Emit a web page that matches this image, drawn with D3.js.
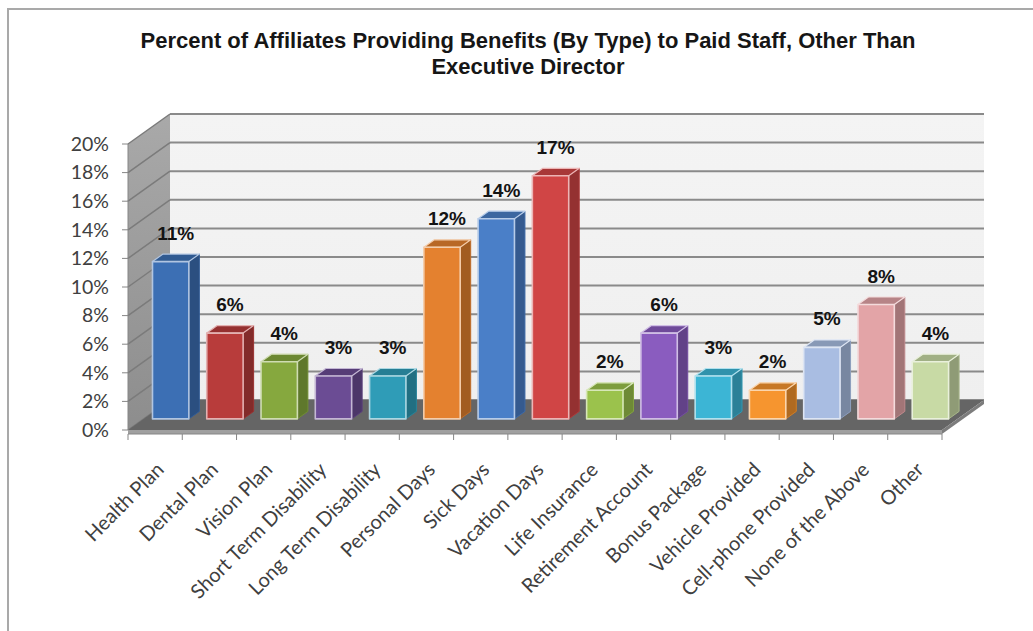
<!DOCTYPE html>
<html>
<head>
<meta charset="utf-8">
<script src="https://cdn.jsdelivr.net/npm/d3@7"></script>
<style>
  html, body { margin: 0; padding: 0; background: #ffffff; }
  svg { display: block; }
</style>
</head>
<body>
<svg id="chart" width="1033" height="631"></svg>
<script>
// Benefit categories and the share of affiliates offering each one (%)
const categories = [
  "Health Plan", "Dental Plan", "Vision Plan", "Short Term Disability",
  "Long Term Disability", "Personal Days", "Sick Days", "Vacation Days",
  "Life Insurance", "Retirement Account", "Bonus Package", "Vehicle Provided",
  "Cell-phone Provided", "None of the Above", "Other"
];
const percents = [11, 6, 4, 3, 3, 12, 14, 17, 2, 6, 3, 2, 5, 8, 4];
const yTicks = [0, 2, 4, 6, 8, 10, 12, 14, 16, 18, 20];
const titleLines = [
  "Percent of Affiliates Providing Benefits (By Type) to Paid Staff, Other Than",
  "Executive Director"
];

// Office-style series palette, one colour per bar
const barColors = [
  "#3c6fb4", "#b83c3b", "#86a83e", "#6b4c94", "#2f9cb7",
  "#e4812f", "#4a7fc8", "#d04545", "#9bc24c", "#8a5cbf",
  "#3cb5d5", "#f6952f", "#a9bde2", "#e3a4a7", "#c8daa5"
];

const svg = d3.select("#chart");

// Outer frame
svg.append("rect").attr("x", 8).attr("y", 9).attr("width", 1040).attr("height", 640)
  .attr("fill", "#ffffff").attr("stroke", "#a9a9a9").attr("stroke-width", 2);

// Title
svg.append("g").selectAll("text").data(titleLines).join("text")
  .attr("x", 528).attr("y", (d, i) => 48 + i * 26)
  .attr("text-anchor", "middle")
  .attr("font-family", "'Liberation Sans', Arial, sans-serif")
  .attr("font-weight", "bold").attr("font-size", 22)
  .attr("fill", "#161616")
  .text(d => d);

// Plot geometry: front plane plus an oblique depth offset
const x0 = 128, x1 = 942, yBase = 430, yTop = 144;
const depth = { dx: 42, dy: -30 };
const x = d3.scaleBand().domain(categories).range([x0, x1])
  .paddingInner(0.33).paddingOuter(0.165);
const y = d3.scaleLinear().domain([0, 20]).range([yBase, yTop]);
const P = (px, v, d) => [px + d * depth.dx, y(v) + d * depth.dy];
const poly = pts => pts.map(p => p.join(",")).join(" ");

const defs = svg.append("defs");
const sideGrad = defs.append("linearGradient").attr("id", "sideWall")
  .attr("x1", 0).attr("y1", 0).attr("x2", 0).attr("y2", 1);
sideGrad.append("stop").attr("offset", "0%").attr("stop-color", "#a9a9a9");
sideGrad.append("stop").attr("offset", "100%").attr("stop-color", "#8d8d8d");
const backGrad = defs.append("linearGradient").attr("id", "backWall")
  .attr("x1", 0).attr("y1", 0).attr("x2", 0).attr("y2", 1);
backGrad.append("stop").attr("offset", "0%").attr("stop-color", "#f4f4f4");
backGrad.append("stop").attr("offset", "100%").attr("stop-color", "#efefef");

const walls = svg.append("g");
// Back wall
walls.append("polygon")
  .attr("points", poly([P(x0, 20, 1), P(x1, 20, 1), P(x1, 0, 1), P(x0, 0, 1)]))
  .attr("fill", "url(#backWall)");
// Side wall
walls.append("polygon")
  .attr("points", poly([P(x0, 20, 0), P(x0, 20, 1), P(x0, 0, 1), P(x0, 0, 0)]))
  .attr("fill", "url(#sideWall)");

// Gridlines on the back and side walls
walls.selectAll("line.back").data(yTicks).join("line").attr("class", "back")
  .attr("x1", d => P(x0, d, 1)[0]).attr("y1", d => P(x0, d, 1)[1])
  .attr("x2", d => P(x1, d, 1)[0]).attr("y2", d => P(x1, d, 1)[1])
  .attr("stroke", "#8a8a8a").attr("stroke-width", 2);
walls.selectAll("line.side").data(yTicks).join("line").attr("class", "side")
  .attr("x1", d => P(x0, d, 0)[0]).attr("y1", d => P(x0, d, 0)[1])
  .attr("x2", d => P(x0, d, 1)[0]).attr("y2", d => P(x0, d, 1)[1])
  .attr("stroke", "#7b7b7b").attr("stroke-width", 1.5);

// Floor slab
const slab = 4;
walls.append("polygon")
  .attr("points", poly([P(x0, 0, 0), P(x1, 0, 0), P(x1, 0, 1), P(x0, 0, 1)]))
  .attr("fill", "#656565");
walls.append("polygon")
  .attr("points", poly([P(x0, 0, 0), P(x1, 0, 0),
    [x1, y(0) + slab], [x0, y(0) + slab]]))
  .attr("fill", "#a0a0a0");
walls.append("polygon")
  .attr("points", poly([P(x1, 0, 0), P(x1, 0, 1),
    [P(x1, 0, 1)[0], P(x1, 0, 1)[1] + slab], [x1, y(0) + slab]]))
  .attr("fill", "#7c7c7c");

// Bars: front, side and top faces
const d0 = 0.37, d1 = 0.62;
const bars = svg.append("g").selectAll("g").data(categories).join("g");
bars.each(function (cat, i) {
  const g = d3.select(this);
  const v = percents[i];
  const xl = x(cat), xr = xl + x.bandwidth();
  const c = d3.color(barColors[i]);
  const edge = d3.interpolateRgb(barColors[i], "#ffffff")(0.6);
  g.append("polygon")
    .attr("points", poly([P(xr, 0, d0), P(xr, 0, d1), P(xr, v, d1), P(xr, v, d0)]))
    .attr("fill", c.darker(0.95)).attr("stroke", c.darker(0.5))
    .attr("stroke-width", 1).attr("stroke-linejoin", "round");
  g.append("polygon")
    .attr("points", poly([P(xl, v, d0), P(xr, v, d0), P(xr, v, d1), P(xl, v, d1)]))
    .attr("fill", c.darker(0.6)).attr("stroke", edge)
    .attr("stroke-width", 1.2).attr("stroke-linejoin", "round");
  g.append("polygon")
    .attr("points", poly([P(xl, 0, d0), P(xr, 0, d0), P(xr, v, d0), P(xl, v, d0)]))
    .attr("fill", c).attr("stroke", edge)
    .attr("stroke-width", 1.6).attr("stroke-linejoin", "round");
});

// Value labels above each bar
svg.append("g").selectAll("text").data(categories).join("text")
  .attr("x", d => P(x(d) + x.bandwidth() / 2, 0, d0)[0] + 5)
  .attr("y", (d, i) => P(x(d), percents[i], d0)[1] - 22)
  .attr("text-anchor", "middle")
  .attr("font-family", "'Liberation Sans', Arial, sans-serif")
  .attr("font-weight", "bold").attr("font-size", 19)
  .attr("fill", "#141414")
  .text((d, i) => percents[i] + "%");

// Value axis
const axisColor = "#868686";
const yAxis = svg.append("g");
yAxis.append("line").attr("x1", x0).attr("x2", x0)
  .attr("y1", y(0)).attr("y2", y(20)).attr("stroke", axisColor);
yAxis.selectAll("line.tick").data(yTicks).join("line").attr("class", "tick")
  .attr("x1", x0 - 6).attr("x2", x0).attr("y1", d => y(d)).attr("y2", d => y(d))
  .attr("stroke", axisColor);
yAxis.selectAll("text").data(yTicks).join("text")
  .attr("x", x0 - 19).attr("y", d => y(d)).attr("dy", "0.35em")
  .attr("text-anchor", "end")
  .attr("font-family", "Lato, 'Open Sans', sans-serif").attr("font-size", 19.5)
  .attr("fill", "#404040")
  .text(d => d + "%");

// Category axis
const xAxis = svg.append("g");
const axisY = y(0) + slab;
xAxis.append("line").attr("x1", x0).attr("x2", x1)
  .attr("y1", axisY).attr("y2", axisY).attr("stroke", axisColor);
const bounds = categories.map(c => x(c) - x.step() * x.paddingInner() / 2)
  .concat([x1]);
xAxis.selectAll("line.tick").data(bounds).join("line").attr("class", "tick")
  .attr("x1", d => d).attr("x2", d => d)
  .attr("y1", axisY).attr("y2", axisY + 6).attr("stroke", axisColor);
xAxis.selectAll("text").data(categories).join("text")
  .attr("transform", d => `translate(${x(d) + x.bandwidth() / 2 + 5},${y(0) + 36}) rotate(-45)`)
  .attr("dy", "0.35em")
  .attr("text-anchor", "end")
  .attr("font-family", "Lato, 'Open Sans', sans-serif").attr("font-size", 20)
  .attr("fill", "#404040")
  .text(d => d);
</script>
</body>
</html>
